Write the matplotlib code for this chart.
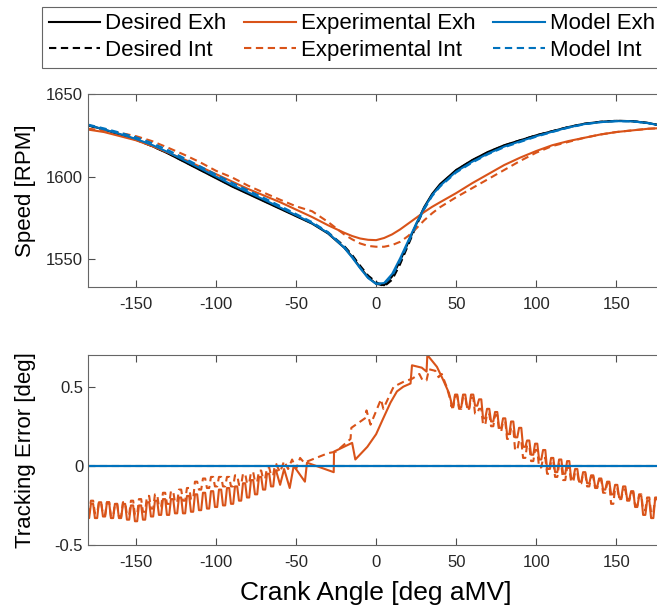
import matplotlib
matplotlib.use("Agg")
import matplotlib.pyplot as plt

plt.rcParams['font.family'] = ['Liberation Sans', 'DejaVu Sans']

BLUE = '#0072BD'
ORANGE = '#D95319'

# ---- speed data ----
ang = [-180, -170, -160, -150, -140, -130, -120, -110, -100, -90, -80, -70,
       -60, -50, -40, -30, -20, -15, -10, -5, 0, 5, 10, 15, 20, 25, 30, 35,
       40, 50, 60, 70, 80, 90, 100, 110, 120, 130, 140, 150, 160, 170, 180]

des_exh = [1631.2, 1628.5, 1625.5, 1622.5, 1618.5, 1614.0, 1609.0, 1604.0,
           1599.0, 1594.0, 1589.5, 1585.0, 1580.5, 1576.0, 1571.5, 1565.5,
           1557.0, 1551.5, 1545.0, 1539.0, 1535.0, 1534.2, 1539.5, 1549.0,
           1560.0, 1571.0, 1581.5, 1589.5, 1595.5, 1604.0, 1610.0, 1615.0,
           1619.0, 1622.0, 1625.0, 1627.5, 1630.0, 1632.0, 1633.2, 1633.8,
           1633.6, 1632.5, 1630.5]
des_int = [1631.0, 1628.5, 1625.5, 1622.3, 1618.5, 1614.2, 1609.2, 1604.2,
           1599.3, 1594.3, 1589.8, 1585.3, 1580.8, 1576.3, 1571.8, 1566.0,
           1558.0, 1552.5, 1546.0, 1540.0, 1536.0, 1533.5, 1537.5, 1547.0,
           1558.5, 1570.0, 1580.5, 1589.0, 1595.0, 1603.8, 1609.8, 1614.8,
           1618.8, 1622.0, 1625.0, 1627.5, 1630.0, 1632.0, 1633.2, 1633.8,
           1633.6, 1632.5, 1630.5]
mod_exh = [1631.2, 1628.6, 1625.8, 1622.8, 1619.2, 1614.8, 1609.9, 1605.0,
           1600.0, 1595.0, 1590.5, 1586.0, 1581.3, 1576.6, 1571.8, 1565.8,
           1557.0, 1551.0, 1544.5, 1538.5, 1535.0, 1535.5, 1541.0, 1550.5,
           1561.0, 1571.5, 1581.0, 1588.8, 1594.5, 1603.0, 1609.0, 1614.0,
           1618.2, 1621.4, 1624.5, 1627.2, 1629.8, 1631.8, 1633.0, 1633.6,
           1633.5, 1632.4, 1630.5]
mod_int = [1631.5, 1629.2, 1626.6, 1623.8, 1620.3, 1616.0, 1611.2, 1606.2,
           1601.2, 1596.2, 1591.6, 1587.0, 1582.2, 1577.3, 1572.4, 1566.3,
           1557.5, 1551.5, 1544.8, 1538.8, 1535.2, 1535.0, 1539.8, 1549.0,
           1559.8, 1570.5, 1580.2, 1588.2, 1594.0, 1602.5, 1608.5, 1613.6,
           1617.8, 1621.0, 1624.2, 1627.0, 1629.6, 1631.7, 1633.0, 1633.6,
           1633.5, 1632.4, 1630.5]
exp_exh = [1628.5, 1627.0, 1624.5, 1622.0, 1618.5, 1614.5, 1610.5, 1606.0,
           1601.5, 1597.0, 1592.5, 1588.5, 1584.5, 1580.0, 1575.5, 1570.5,
           1566.0, 1564.0, 1562.5, 1561.7, 1561.5, 1562.8, 1565.0, 1568.0,
           1571.5, 1575.0, 1578.5, 1581.7, 1584.5, 1590.0, 1596.0, 1601.5,
           1607.0, 1611.5, 1615.5, 1619.0, 1621.5, 1623.5, 1625.5, 1627.0,
           1628.0, 1629.0, 1629.5]
exp_int = [1629.0, 1628.0, 1626.5, 1624.5, 1621.5, 1617.5, 1613.3, 1608.7,
           1603.5, 1599.5, 1594.5, 1590.2, 1586.0, 1582.0, 1579.0, 1572.5,
           1565.0, 1562.0, 1559.5, 1558.0, 1557.5, 1557.5, 1558.5, 1560.5,
           1564.0, 1568.5, 1573.5, 1577.8, 1581.5, 1587.5, 1593.0, 1598.5,
           1604.0, 1609.5, 1614.5, 1618.5, 1621.0, 1623.5, 1625.5, 1627.0,
           1628.0, 1629.0, 1629.5]

# ---- tracking error data ----
zero_ang = [-180, 180]
zero_err = [0.0, 0.0]

# oscillating stretch on the left (peaks / troughs)
left_ang = [-180, -177.5, -175, -172.5, -170, -167.5, -165, -162.5, -160,
            -157.5, -155, -152.5, -150, -147.5, -145, -142.5, -140, -137.5,
            -135, -132.5, -130, -127.5, -125, -122.5, -120, -117.5, -115,
            -112.5, -110, -107.5, -105, -102.5, -100, -97.5, -95, -92.5,
            -90, -87.5, -85, -82.5, -80, -77.5, -75, -72.5, -70, -67.5,
            -65, -62.5]
err_exh_left = [-0.33, -0.24, -0.33, -0.23, -0.32, -0.23, -0.33, -0.24, -0.33,
                -0.24, -0.34, -0.25, -0.35, -0.25, -0.34, -0.23, -0.32, -0.22,
                -0.31, -0.21, -0.31, -0.21, -0.30, -0.20, -0.30, -0.19, -0.29,
                -0.18, -0.28, -0.17, -0.27, -0.16, -0.26, -0.15, -0.25, -0.14,
                -0.24, -0.13, -0.22, -0.11, -0.20, -0.09, -0.18, -0.07, -0.15,
                -0.05, -0.13, -0.03]
err_int_left = [-0.30, -0.22, -0.30, -0.23, -0.31, -0.23, -0.32, -0.24, -0.32,
                -0.23, -0.31, -0.22, -0.31, -0.21, -0.29, -0.19, -0.27, -0.18,
                -0.26, -0.17, -0.24, -0.16, -0.23, -0.15, -0.22, -0.14, -0.21,
                -0.10, -0.15, -0.08, -0.14, -0.07, -0.13, -0.07, -0.13, -0.07,
                -0.13, -0.06, -0.12, -0.05, -0.11, -0.04, -0.10, -0.03, -0.08,
                -0.01, -0.06, 0.01]

# sawtooth / ramp stretch in the middle
exh_mid_ang = [-62.5, -60, -57.5, -54, -51.5, -44.5, -43.2, -26.5, -26.3,
               -15, -13, -5.5, 0, 4, 9, 13, 17, 21.5, 22.4, 28.5, 31.5, 32,
               38, 42, 45.5, 47.5]
err_exh_mid = [-0.03, -0.12, -0.02, -0.14, 0.00, -0.10, 0.02, -0.04, 0.09,
               0.145, 0.04, 0.12, 0.20, 0.29, 0.40, 0.47, 0.50, 0.52, 0.635,
               0.62, 0.595, 0.70, 0.625, 0.54, 0.46, 0.38]
int_mid_ang = [-62.5, -60, -57.5, -55, -52.5, -50, -47.5, -45, -30, -25, -16,
               -15.5, -7, -6, -3.5, 3, 4.5, 10, 11, 17, 22.5, 27, 29, 31.5,
               33, 37, 39, 41, 44, 46, 47.5]
err_int_mid = [0.01, -0.04, 0.03, -0.02, 0.04, -0.02, 0.05, 0.02, 0.08, 0.09,
               0.17, 0.24, 0.30, 0.35, 0.26, 0.42, 0.36, 0.48, 0.50, 0.53,
               0.55, 0.58, 0.54, 0.54, 0.61, 0.60, 0.56, 0.58, 0.50, 0.43,
               0.37]

# oscillating stretch on the right
right_ang = [47.5, 50, 52.5, 55, 57.5, 60, 62.5, 65, 67.5, 70, 72.5, 75, 77.5,
             80, 82.5, 85, 87.5, 90, 92.5, 95, 97.5, 100, 102.5, 105, 107.5,
             110, 112.5, 115, 117.5, 120, 122.5, 125, 127.5, 130, 132.5, 135,
             137.5, 140, 142.5, 145, 147.5, 150, 152.5, 155, 157.5, 160,
             162.5, 165, 167.5, 170, 172.5, 175, 177.5, 180]
err_exh_right = [0.38, 0.45, 0.37, 0.45, 0.37, 0.45, 0.38, 0.42, 0.30, 0.36,
                 0.28, 0.34, 0.24, 0.30, 0.20, 0.28, 0.18, 0.24, 0.12, 0.16,
                 0.07, 0.14, 0.04, 0.10, -0.02, 0.05, -0.04, 0.04, -0.05,
                 0.03, -0.08, -0.02, -0.10, -0.04, -0.11, -0.06, -0.13, -0.08,
                 -0.15, -0.10, -0.18, -0.12, -0.20, -0.13, -0.21, -0.16, -0.26,
                 -0.19, -0.31, -0.22, -0.33, -0.21, -0.25, -0.18]
err_int_right = [0.37, 0.44, 0.36, 0.44, 0.36, 0.43, 0.33, 0.36, 0.26, 0.33,
                 0.25, 0.32, 0.22, 0.28, 0.17, 0.24, 0.10, 0.16, 0.05, 0.13,
                 0.03, 0.10, -0.01, 0.05, -0.05, 0.03, -0.07, 0.01, -0.09,
                 -0.01, -0.10, -0.04, -0.11, -0.05, -0.13, -0.07, -0.14, -0.09,
                 -0.17, -0.11, -0.24, -0.14, -0.21, -0.15, -0.22, -0.17, -0.25,
                 -0.18, -0.28, -0.20, -0.30, -0.20, -0.23, -0.18]

xticks = [-150, -100, -50, 0, 50, 100, 150]
lw = 1.5
dash = (3.5, 2.2)


def plateau(xs, ys, half=0.7):
    # hold each peak/trough for a short stretch, sloped edges in between
    px, py = [], []
    for x, y in zip(xs, ys):
        px += [x - half, x + half]
        py += [y, y]
    return px, py


fig = plt.figure(figsize=(6.57, 6.11), dpi=100)
ax1 = fig.add_axes([0.134, 0.530, 0.877, 0.316])
ax2 = fig.add_axes([0.134, 0.108, 0.877, 0.311])

# top: speed
h1, = ax1.plot(ang, des_exh, color='black', lw=lw, label='Desired Exh')
h2, = ax1.plot(ang, des_int, color='black', lw=lw, ls=(0, dash), label='Desired Int')
h3, = ax1.plot(ang, exp_exh, color=ORANGE, lw=lw, label='Experimental Exh')
h4, = ax1.plot(ang, exp_int, color=ORANGE, lw=lw, ls=(0, dash), label='Experimental Int')
h5, = ax1.plot(ang, mod_exh, color=BLUE, lw=lw, label='Model Exh')
h6, = ax1.plot(ang, mod_int, color=BLUE, lw=lw, ls=(0, dash), label='Model Int')
ax1.set_ylim(1533, 1650)
ax1.set_yticks([1550, 1600, 1650])
ax1.set_ylabel('Speed [RPM]', fontsize=16)

# bottom: tracking error
ax2.plot(zero_ang, zero_err, color='black', lw=lw)
ax2.plot(*plateau(left_ang, err_exh_left), color=ORANGE, lw=lw)
ax2.plot(exh_mid_ang, err_exh_mid, color=ORANGE, lw=lw)
ax2.plot(*plateau(right_ang, err_exh_right), color=ORANGE, lw=lw)
ax2.plot(*plateau(left_ang, err_int_left), color=ORANGE, lw=lw, ls=(0, dash))
ax2.plot(int_mid_ang, err_int_mid, color=ORANGE, lw=lw, ls=(0, dash))
ax2.plot(*plateau(right_ang, err_int_right), color=ORANGE, lw=lw, ls=(0, dash))
ax2.plot(zero_ang, zero_err, color=BLUE, lw=lw)
ax2.plot(zero_ang, zero_err, color=BLUE, lw=lw, ls=(0, dash))
ax2.set_ylim(-0.5, 0.7)
ax2.set_yticks([-0.5, 0, 0.5])
ax2.set_yticklabels(['-0.5', '0', '0.5'])
ax2.set_ylabel('Tracking Error [deg]', fontsize=16)
ax2.set_xlabel('Crank Angle [deg aMV]', fontsize=19, labelpad=8)

for ax in (ax1, ax2):
    ax.set_xlim(-180, 180)
    ax.set_xticks(xticks)
    ax.set_xticklabels([str(t) for t in xticks])
    ax.tick_params(direction='in', top=True, right=True, length=5,
                   width=0.8, colors='0.3', labelcolor='#262626', labelsize=12)
    ax.tick_params(axis='x', pad=7)
    ax.yaxis.set_label_coords(-0.09, 0.5)
    for s in ax.spines.values():
        s.set_color('0.4')
        s.set_linewidth(0.8)

leg = fig.legend([h1, h2, h3, h4, h5, h6],
                 ['Desired Exh', 'Desired Int', 'Experimental Exh',
                  'Experimental Int', 'Model Exh', 'Model Int'],
                 ncol=3, loc='upper left', bbox_to_anchor=(0.064, 0.989),
                 borderaxespad=0, fontsize=16, handlelength=2.3,
                 handletextpad=0.25, columnspacing=0.8, labelspacing=0.25,
                 borderpad=0.3, fancybox=False, framealpha=1, edgecolor='0.4')
leg.get_frame().set_linewidth(0.8)

fig.savefig('out.png', dpi=100)
